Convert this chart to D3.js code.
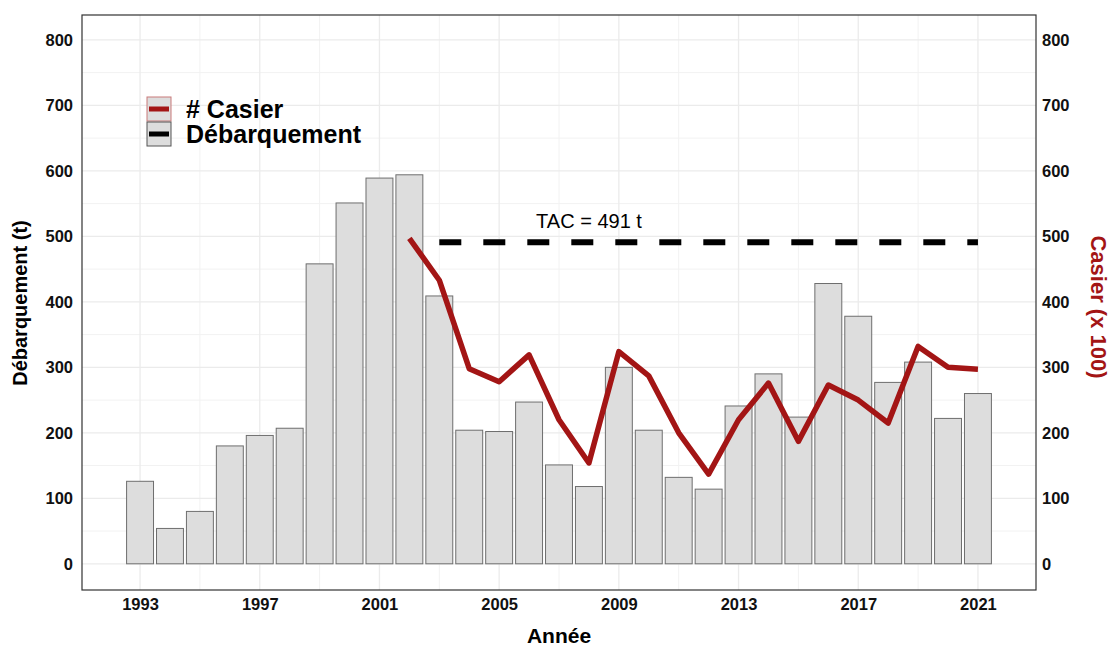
<!DOCTYPE html>
<html>
<head>
<meta charset="utf-8">
<script src="https://cdn.jsdelivr.net/npm/d3@7"></script>
<style>
  body { margin: 0; background: #fff; }
  svg text { font-family: "Liberation Sans", Arial, sans-serif; }
</style>
</head>
<body>
<script>
'use strict';

// data
const years = [1993, 1994, 1995, 1996, 1997, 1998, 1999, 2000, 2001, 2002, 2003, 2004, 2005, 2006,
               2007, 2008, 2009, 2010, 2011, 2012, 2013, 2014, 2015, 2016, 2017, 2018, 2019, 2020, 2021];
const landings = [126, 54, 80, 180, 196, 207, 458, 551, 589, 594, 409, 204, 202, 247,
                  151, 118, 300, 204, 132, 114, 241, 290, 224, 428, 378, 277, 308, 222, 260];
const trapYears = [2002, 2003, 2004, 2005, 2006, 2007, 2008, 2009, 2010, 2011, 2012,
                   2013, 2014, 2015, 2016, 2017, 2018, 2019, 2020, 2021];
const traps = [497, 433, 298, 278, 319, 220, 154, 324, 287, 200, 137,
               220, 276, 187, 273, 250, 215, 332, 300, 297];
const tacValue = 491;
const tacYears = [2003, 2021];
const yTicks = [0, 100, 200, 300, 400, 500, 600, 700, 800];
const xTicks = [1993, 1997, 2001, 2005, 2009, 2013, 2017, 2021];

const W = 1112, H = 649;
const panel = { left: 82, right: 1036, top: 15, bottom: 590 };
const red = '#a31515';

const svg = d3.select('body').append('svg')
  .attr('width', W)
  .attr('height', H);

// scales
const x = d3.scaleLinear().domain([1991.06, 2022.94]).range([panel.left, panel.right]);
const y = d3.scaleLinear().domain([-40, 838]).range([panel.bottom, panel.top]);
const barW = (x(1994) - x(1993)) * 0.9;

// grid: minor then major
const grid = svg.append('g');
const minorY = d3.range(50, 850, 100);
const minorX = d3.range(1995, 2023, 4);
grid.selectAll('.ym').data(minorY).enter().append('line')
  .attr('x1', panel.left).attr('x2', panel.right)
  .attr('y1', d => y(d)).attr('y2', d => y(d))
  .attr('stroke', '#f2f2f2').attr('stroke-width', 1);
grid.selectAll('.xm').data(minorX).enter().append('line')
  .attr('y1', panel.top).attr('y2', panel.bottom)
  .attr('x1', d => x(d)).attr('x2', d => x(d))
  .attr('stroke', '#f2f2f2').attr('stroke-width', 1);
grid.selectAll('.yM').data(yTicks).enter().append('line')
  .attr('x1', panel.left).attr('x2', panel.right)
  .attr('y1', d => y(d)).attr('y2', d => y(d))
  .attr('stroke', '#ebebeb').attr('stroke-width', 1.3);
grid.selectAll('.xM').data(xTicks).enter().append('line')
  .attr('y1', panel.top).attr('y2', panel.bottom)
  .attr('x1', d => x(d)).attr('x2', d => x(d))
  .attr('stroke', '#ebebeb').attr('stroke-width', 1.3);

// bars
svg.selectAll('.bar').data(years).enter().append('rect')
  .attr('x', d => x(d) - barW / 2)
  .attr('width', barW)
  .attr('y', (d, i) => y(landings[i]))
  .attr('height', (d, i) => y(0) - y(landings[i]))
  .attr('fill', '#dddddd')
  .attr('stroke', '#6e6e6e')
  .attr('stroke-width', 1);

// TAC dashed line
svg.append('line')
  .attr('x1', x(tacYears[0])).attr('x2', x(tacYears[1]))
  .attr('y1', y(tacValue)).attr('y2', y(tacValue))
  .attr('stroke', '#000').attr('stroke-width', 6)
  .attr('stroke-dasharray', '22,22');

svg.append('text')
  .attr('x', 589).attr('y', 228)
  .attr('text-anchor', 'middle')
  .style('font-size', '20px')
  .text('TAC = ' + tacValue + ' t');

// traps line
const line = d3.line()
  .x((d, i) => x(trapYears[i]))
  .y(d => y(d));
svg.append('path')
  .datum(traps)
  .attr('d', line)
  .attr('fill', 'none')
  .attr('stroke', red)
  .attr('stroke-width', 5.5)
  .attr('stroke-linejoin', 'round');

// panel border
svg.append('rect')
  .attr('x', panel.left).attr('y', panel.top)
  .attr('width', panel.right - panel.left)
  .attr('height', panel.bottom - panel.top)
  .attr('fill', 'none')
  .attr('stroke', '#333').attr('stroke-width', 1.2);

// axes (no tick marks)
const leftAxis = svg.append('g')
  .attr('transform', 'translate(' + panel.left + ',0)')
  .call(d3.axisLeft(y).tickValues(yTicks).tickSize(0).tickPadding(9));
const rightAxis = svg.append('g')
  .attr('transform', 'translate(' + panel.right + ',0)')
  .call(d3.axisRight(y).tickValues(yTicks).tickSize(0).tickPadding(6));
const bottomAxis = svg.append('g')
  .attr('transform', 'translate(0,' + panel.bottom + ')')
  .call(d3.axisBottom(x).tickValues(xTicks).tickFormat(d3.format('d')).tickSize(0).tickPadding(8));

[leftAxis, rightAxis, bottomAxis].forEach(a => {
  a.select('.domain').remove();
  a.selectAll('text')
    .style('font-family', '"Liberation Sans", Arial, sans-serif')
    .style('font-size', '16.5px')
    .style('font-weight', 'bold')
    .attr('fill', '#111');
});

// axis titles
svg.append('text')
  .attr('transform', 'translate(27,303)rotate(-90)')
  .attr('text-anchor', 'middle')
  .style('font-size', '20px')
  .style('font-weight', 'bold')
  .text('Débarquement (t)');

svg.append('text')
  .attr('transform', 'translate(1091,307)rotate(90)')
  .attr('text-anchor', 'middle')
  .style('font-size', '22px')
  .style('font-weight', 'bold')
  .attr('fill', red)
  .text('Casier (x 100)');

svg.append('text')
  .attr('x', 559).attr('y', 643)
  .attr('text-anchor', 'middle')
  .style('font-size', '21px')
  .style('font-weight', 'bold')
  .text('Année');

// legend
const legendItems = [
  { label: '# Casier', color: red, border: '#c97a7a' },
  { label: 'Débarquement', color: '#000', border: '#555' }
];
const legend = svg.selectAll('.legend').data(legendItems).enter().append('g')
  .attr('transform', (d, i) => 'translate(147,' + (97 + i * 25) + ')');
legend.append('rect')
  .attr('width', 24).attr('height', 24)
  .attr('fill', '#dddddd')
  .attr('stroke', d => d.border).attr('stroke-width', 1);
legend.append('line')
  .attr('x1', 2).attr('x2', 22)
  .attr('y1', 12).attr('y2', 12)
  .attr('stroke', d => d.color).attr('stroke-width', 5);
legend.append('text')
  .attr('x', 39).attr('y', 21)
  .style('font-size', '25px')
  .style('font-weight', 'bold')
  .text(d => d.label);
</script>
</body>
</html>
